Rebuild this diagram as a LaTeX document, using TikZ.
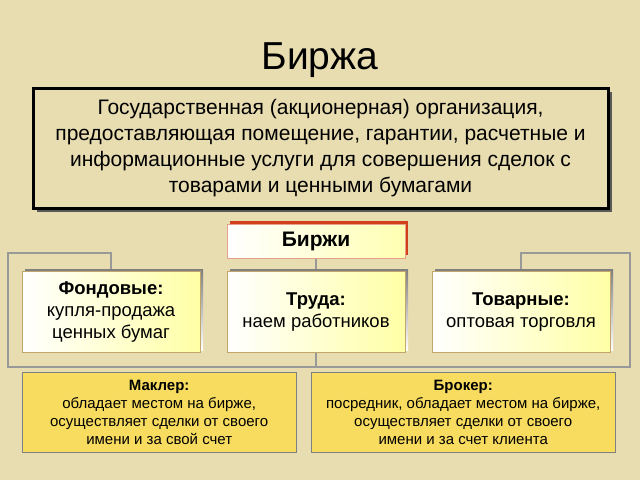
\documentclass[tikz,border=0pt]{standalone}
\usepackage{fontspec}
\setmainfont{Liberation Sans}
\usetikzlibrary{positioning}
\definecolor{bg}{HTML}{E8DDB0}
\definecolor{shade}{HTML}{9A6A08}
\definecolor{shred}{HTML}{D0401A}
\definecolor{note}{HTML}{F8DC60}
\tikzset{
  kind/.style={draw=shade!60, minimum width=178pt, minimum height=81pt, align=center,
               left color=white, right color=yellow!35, font=\fontsize{18.5}{22}\selectfont},
  head/.style={draw=shred!50, minimum width=178pt, minimum height=34pt,
               left color=white, right color=yellow!30, font=\fontsize{21}{22}\selectfont\bfseries},
  notebox/.style={draw=gray, fill=note, align=center, anchor=north west,
               font=\fontsize{15}{18}\selectfont, inner sep=2pt},
  link/.style={draw=gray!80, line width=1.5pt}
}
\begin{document}
\begin{tikzpicture}[x=1pt,y=-1pt]
  \fill[bg] (0,0) rectangle (640,480);
  \useasboundingbox (0,0) rectangle (640,480);
  \node (title) at (320,60) {\fontsize{39}{40}\selectfont Биржа};
  % definition
  \fill[gray!70!black] (37,92) rectangle (612,212);
  \node[draw, line width=3pt, fill=bg, minimum width=575pt, minimum height=120pt,
        align=center, font=\fontsize{21}{26}\selectfont] (def) at (320.5,148)
    {Государственная (акционерная) организация,\\
     предоставляющая помещение, гарантии, расчетные и\\
     информационные услуги для совершения сделок с\\
     товарами и ценными бумагами};
  % connectors
  \coordinate (lu) at (8,253);
  \coordinate (ld) at (8,367);
  \coordinate (ru) at (630,253);
  \coordinate (rd) at (630,367);
  \coordinate (md) at (316,367);
  \draw[link] (111,270) |- (lu) -- (ld) -- (md);
  \draw[link] (521,270) |- (ru) -- (rd) -- (md);
  \draw[link] (316,258) -- (md);
  % shadows
  \fill[shred] (230,221) rectangle (408,255);
  \foreach \x in {25,230,435}
    \fill[shade] (\x,269) rectangle ({\x+178},350);
  % boxes
  \node[head] (birzhi) at (316,241) {Биржи};
  \node[kind] (fond) at (111,312) {\textbf{Фондовые:}\\купля-продажа\\ценных бумаг};
  \node[kind] (trud) at (316,312) {\textbf{Труда:}\\наем работников};
  \node[kind] (tovar) at (521,312) {\textbf{Товарные:}\\оптовая торговля};
  \node[notebox, minimum width=274pt, minimum height=80pt] (makler) at (22,372)
    {\textbf{Маклер:}\\обладает местом на бирже,\\осуществляет сделки от своего\\имени и за свой счет};
  \node[notebox, minimum width=304pt, minimum height=80pt] (broker) at (311,372)
    {\textbf{Брокер:}\\посредник, обладает местом на бирже,\\осуществляет сделки от своего\\имени и за счет клиента};
\end{tikzpicture}
\end{document}
